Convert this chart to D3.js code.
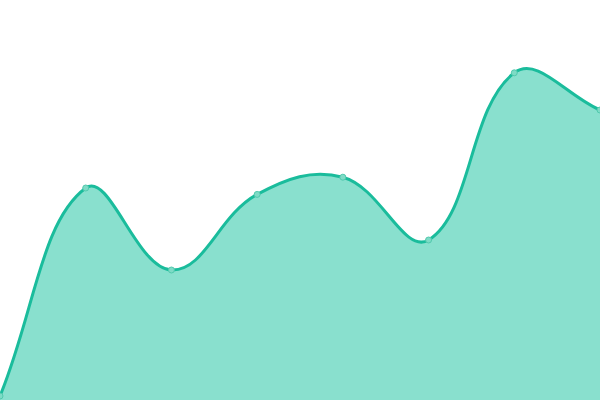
<!DOCTYPE html>
<html>
<head>
<meta charset="utf-8">
<script src="https://cdn.jsdelivr.net/npm/d3@7.9.0/dist/d3.min.js"></script>
<style>
  html, body { margin: 0; padding: 0; background: #fff; }
  svg { display: block; }
</style>
</head>
<body>
<div id="chart"></div>
<script>
// Values
const categories = ["1", "2", "3", "4", "5", "6", "7", "8"];
const values = [1, 53, 32.5, 51.4, 55.7, 40, 81.8, 72.5];

const width = 600;
const height = 400;

// Bezier spline with tension, control points scaled by neighbour distances
function SplineCurve(context, tension) {
    this._context = context;
    this._t = tension;
}
SplineCurve.prototype = {
    areaStart() { this._line = 0; },
    areaEnd() { this._line = NaN; },
    lineStart() { this._pts = []; },
    lineEnd() {
        const p = this._pts, n = p.length, ctx = this._context, t = this._t;
        const clampX = v => Math.max(0, Math.min(width, v));
        const clampY = v => Math.max(0, Math.min(height, v));
        if (n) {
            if (this._line) ctx.lineTo(p[0][0], p[0][1]);
            else ctx.moveTo(p[0][0], p[0][1]);
            const cps = p.map((cur, i) => {
                const prev = p[i - 1] || cur, next = p[i + 1] || cur;
                const d01 = Math.hypot(cur[0] - prev[0], cur[1] - prev[1]);
                const d12 = Math.hypot(next[0] - cur[0], next[1] - cur[1]);
                let s01 = d01 / (d01 + d12), s12 = d12 / (d01 + d12);
                if (isNaN(s01)) s01 = 0;
                if (isNaN(s12)) s12 = 0;
                const fa = t * s01, fb = t * s12;
                return {
                    px: clampX(cur[0] - fa * (next[0] - prev[0])),
                    py: clampY(cur[1] - fa * (next[1] - prev[1])),
                    nx: clampX(cur[0] + fb * (next[0] - prev[0])),
                    ny: clampY(cur[1] + fb * (next[1] - prev[1]))
                };
            });
            for (let i = 1; i < n; i++) {
                ctx.bezierCurveTo(cps[i - 1].nx, cps[i - 1].ny, cps[i].px, cps[i].py, p[i][0], p[i][1]);
            }
        }
        if (this._line || (this._line !== 0 && n === 1)) ctx.closePath();
        this._line = 1 - this._line;
    },
    point(x, y) { this._pts.push([+x, +y]); }
};
const curveSpline = context => new SplineCurve(context, 0.4);

const svg = d3.select("#chart")
    .append("svg")
    .attr("width", width)
    .attr("height", height);

const xScale = d3.scalePoint().domain(categories).range([0, width]);
const yScale = d3.scaleLinear().domain([0, 100]).range([height, 0]);

const data = categories.map((c, i) => ({ cat: c, value: values[i] }));

const area = d3.area()
    .x(d => xScale(d.cat))
    .y0(height)
    .y1(d => yScale(d.value))
    .curve(curveSpline);

const line = d3.line()
    .x(d => xScale(d.cat))
    .y(d => yScale(d.value))
    .curve(curveSpline);

svg.append("path")
    .datum(data)
    .attr("d", area)
    .attr("fill", "rgba(20,193,158,0.5)");

svg.append("path")
    .datum(data)
    .attr("d", line)
    .attr("fill", "none")
    .attr("stroke", "#1abc9c")
    .attr("stroke-width", 3);

// point markers
svg.selectAll("circle")
    .data(data)
    .join("circle")
    .attr("cx", d => xScale(d.cat))
    .attr("cy", d => yScale(d.value))
    .attr("r", 3)
    .attr("fill", "#7edbc6")
    .attr("stroke", "#52c9ad")
    .attr("stroke-width", 1);
</script>
</body>
</html>
